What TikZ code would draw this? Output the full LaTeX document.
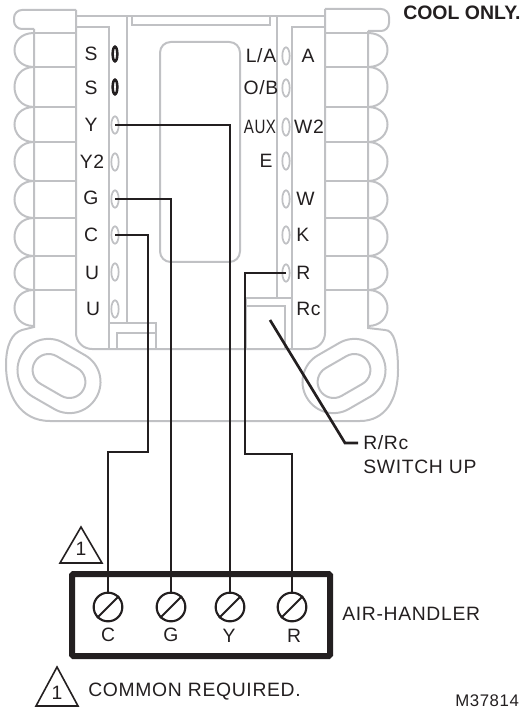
\documentclass[tikz,border=0pt]{standalone}
\usepackage{fontspec}
\setmainfont[LetterSpace=3.5]{Liberation Sans}
\newfontfamily\coolfont{Liberation Sans}
\usetikzlibrary{shapes.geometric}
\definecolor{plategray}{RGB}{192,193,196}
\definecolor{inkblack}{RGB}{35,31,32}
\tikzset{
  plate/.style={draw=plategray,line width=1.5pt},
  wire/.style={draw=inkblack,line width=2pt},
  peg/.style={draw=plategray,line width=1.3pt,ellipse,minimum width=5.5pt,minimum height=13pt,inner sep=0pt},
  hotpeg/.style={draw=inkblack,line width=1.9pt,ellipse,minimum width=3.5pt,minimum height=11pt,inner sep=0pt},
  screw/.style={circle,draw=inkblack,line width=1.6pt,minimum size=21.5pt,inner sep=0pt},
  lbl/.style={font=\fontsize{14.5}{16}\selectfont,text=inkblack,inner sep=0pt},
  note/.style={font=\fontsize{14.5}{16}\selectfont,text=inkblack,inner sep=0pt},
  flag/.style={draw=inkblack,line width=1.2pt}
}
\begin{document}
\begin{tikzpicture}[x=0.75pt,y=-0.75pt]
	\useasboundingbox (0,0) rectangle (526,712);
	% plate outline
	\draw[plate,rounded corners=6pt] (76,10)--(14,10)--(14,29)--(34,29);
	\draw[plate] (34,29)--(34,327)--(22,330) .. controls (12,333) and (6,345) .. (6,365)
		.. controls (6,395) and (20,421) .. (50,421)--(360,421)
		.. controls (385,421) and (398,400) .. (398,370)
		.. controls (398,345) and (394,330) .. (385,330)--(368,328)--(368,31);
	\draw[plate,rounded corners=6pt] (368,31)--(389,31)--(389,9)--(325,9);
	\draw[plate,rounded corners=12pt] (76,10)--(76,349)--(325,349)--(325,9);
	% scallops
	\foreach \ya/\yb in {33/67,67/107,107/142,142/181,181/218,218/256,256/290,290/326}{
		\draw[plate] (34,\ya) .. controls (8,\ya) and (8,\yb) .. (34,\yb);
		\draw[plate] (368,\ya) .. controls (394,\ya) and (394,\yb) .. (368,\yb);
	}
	\foreach \ya in {33,67,107,142,181,218,256,290}{
		\draw[plate] (34,\ya)--(76,\ya);
		\draw[plate] (325,\ya)--(368,\ya);
	}
	% inner channels
	\draw[plate] (76,16)--(325,16);
	\draw[plate] (76,27)--(109,27)--(109,349);
	\draw[plate] (325,27)--(292,27)--(292,349);
	\draw[plate] (127,16)--(127,323);
	\draw[plate] (277,16)--(277,298);
	\draw[plate] (132,16)--(132,25)--(270,25)--(270,16);
	\draw[plate,rounded corners=8pt] (160,42) rectangle (240,262);
	% switch boxes
	\draw[plate] (109,323)--(156,323)--(156,349);
	\draw[plate] (117,349)--(117,333)--(156,333);
	\draw[plate] (246,349)--(246,298)--(292,298);
	\draw[plate] (246,306)--(285,306)--(285,349);
	% mounting slots
	\begin{scope}[shift={(59,376)},rotate=-30]
		\draw[plate,rounded corners=23pt] (-43,-31) rectangle (43,31);
		\draw[plate,rounded corners=12pt] (-28,-16) rectangle (28,16);
	\end{scope}
	\begin{scope}[shift={(344,376)},rotate=30]
		\draw[plate,rounded corners=23pt] (-43,-31) rectangle (43,31);
		\draw[plate,rounded corners=12pt] (-28,-16) rectangle (28,16);
	\end{scope}
	% terminals, left
	\node[hotpeg] (pegSa) at (115,54) {};
	\node[hotpeg] (pegSb) at (115,87) {};
	\node[peg] (pegY) at (115,125) {};
	\node[peg] (pegYb) at (115,162) {};
	\node[peg] (pegG) at (115,199) {};
	\node[peg] (pegC) at (115,235) {};
	\node[peg] (pegUa) at (115,272) {};
	\node[peg] (pegUb) at (115,309) {};
	\node[lbl] (lblSa) at (91,54) {S};
	\node[lbl] (lblSb) at (91,88) {S};
	\node[lbl] (lblY) at (91,125) {Y};
	\node[lbl] (lblYb) at (92,162) {Y2};
	\node[lbl] (lblG) at (91,198) {G};
	\node[lbl] (lblC) at (91,235) {C};
	\node[lbl] (lblUa) at (92,273) {U};
	\node[lbl] (lblUb) at (93,309) {U};
	% terminals, right
	\node[peg] (pegA) at (286,56) {};
	\node[peg] (pegOB) at (286,88) {};
	\node[peg] (pegAUX) at (286,127) {};
	\node[peg] (pegE) at (286,161) {};
	\node[peg] (pegW) at (286,199) {};
	\node[peg] (pegK) at (286,235) {};
	\node[peg] (pegR) at (286,273) {};
	\node[lbl] (lblLA) at (261,56) {L/A};
	\node[lbl] (lblOB) at (261,88) {O/B};
	\node[lbl,xscale=0.78] (lblAUX) at (260,127) {AUX};
	\node[lbl] (lblE) at (266,161) {E};
	\node[lbl] (lblA) at (308,56) {A};
	\node[lbl] (lblWb) at (309,127) {W2};
	\node[lbl,anchor=west] (lblW) at (296,199) {W};
	\node[lbl,anchor=west] (lblK) at (296,235) {K};
	\node[lbl,anchor=west] (lblR) at (296,273) {R};
	\node[lbl,anchor=west] (lblRc) at (296,309) {Rc};
	% air handler
	\node[draw=inkblack,line width=4.5pt,rounded corners=1pt,minimum width=193.5pt,minimum height=61.5pt,inner sep=0pt] (handler) at (201,615) {};
	\node[screw] (scrC) at (108,607) {};
	\node[screw] (scrG) at (171,607) {};
	\node[screw] (scrY) at (230,607) {};
	\node[screw] (scrR) at (292,607) {};
	\foreach \n in {scrC,scrG,scrY,scrR}{
		\draw[wire,line width=1.5pt] (\n.225)--(\n.45);
	}
	\node[lbl] (lblsC) at (108,635) {C};
	\node[lbl] (lblsG) at (171,635) {G};
	\node[lbl] (lblsY) at (229,636) {Y};
	\node[lbl] (lblsR) at (294,636) {R};
	% wires
	\draw[wire] (pegY.center)-|(scrY.north);
	\draw[wire] (pegG.center)-|(scrG.north);
	\draw[wire] (pegC.center)-|(148,452)-|(scrC.north);
	\draw[wire] (pegR.center)-|(245,454)-|(scrR.north);
	% switch callout
	\coordinate (swTip) at (270,320);
	\coordinate (swBend) at (345,443);
	\coordinate (swEnd) at (358,443);
	\draw[wire] (swTip)--(swBend)--(swEnd);
	\node[note,anchor=west] (lblSwitch) at (363,443) {R/Rc};
	\node[note,anchor=west] (lblUp) at (363,467) {SWITCH UP};
	% notes
	\node[note,anchor=west] (lblAir) at (342,614) {AIR-HANDLER};
	\node[note,anchor=west] (lblCommon) at (88,692) {COMMON REQUIRED.};
	\node[note,anchor=west,font=\fontsize{12.6}{14}\selectfont] (lblCode) at (455,701) {M37814};
	\node[note,anchor=west,font=\fontsize{14.6}{16}\selectfont\coolfont\bfseries] (lblCool) at (403,13) {COOL ONLY.};
	% triangles
	\draw[flag] (60,563)--(81,527)--(102,563)--cycle;
	\node[note] (flagTop) at (81,549) {1};
	\draw[flag] (36,706)--(57,667)--(78,706)--cycle;
	\node[note] (flagBot) at (57,693) {1};
\end{tikzpicture}
\end{document}
